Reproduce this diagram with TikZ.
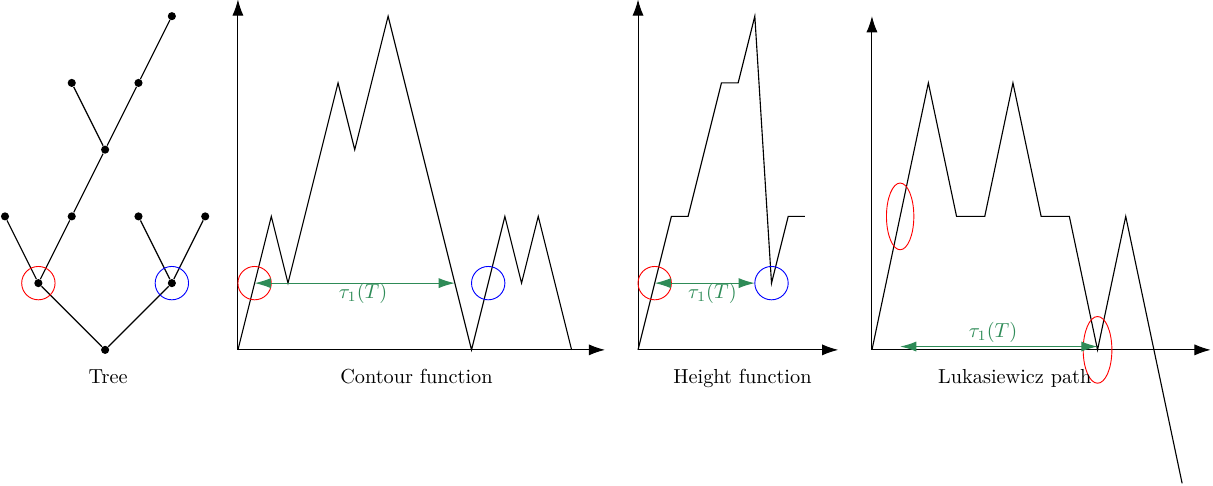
\documentclass[tikz,border=0pt]{standalone}
\usetikzlibrary{arrows.meta}
\definecolor{tgreen}{RGB}{46,139,87}
\begin{document}
\begin{tikzpicture}[x=0.5778cm,y=0.5778cm,
  dot/.style={circle,fill=black,inner sep=0pt,minimum size=4pt},
  edge/.style={line width=0.6pt},
  axis/.style={line width=0.5pt,-{Latex[length=8pt,width=5.5pt]}},
  curve/.style={line width=0.55pt},
  dbl/.style={tgreen,line width=0.55pt,{Latex[length=8pt,width=5pt]}-{Latex[length=8pt,width=5pt]}},
  redring/.style={red,line width=0.45pt},
  bluering/.style={blue,line width=0.45pt},
  lab/.style={anchor=base},
  tlab/.style={anchor=base,text=tgreen}]
\useasboundingbox (0,0) rectangle (36.35,14.56);

% ---------- Tree ----------
\begin{scope}[shift={(0.15,4.075)}]
  \node[dot] (r) at (3,0) {};
  \node[dot] (a) at (1,2) {};
  \node[dot] (b) at (5,2) {};
  \node[dot] (a1) at (0,4) {};
  \node[dot] (a2) at (2,4) {};
  \node[dot] (b1) at (4,4) {};
  \node[dot] (b2) at (6,4) {};
  \node[dot] (c) at (3,6) {};
  \node[dot] (c1) at (2,8) {};
  \node[dot] (c2) at (4,8) {};
  \node[dot] (d) at (5,10) {};
  \draw[edge] (r) -- (a);
  \draw[edge] (r) -- (b);
  \draw[edge] (a) -- (a1);
  \draw[edge] (a) -- (a2);
  \draw[edge] (a2) -- (c);
  \draw[edge] (c) -- (c1);
  \draw[edge] (c) -- (c2);
  \draw[edge] (c2) -- (d);
  \draw[edge] (b) -- (b1);
  \draw[edge] (b) -- (b2);
  \draw[redring] (a) circle (0.5);
  \draw[bluering] (b) circle (0.5);
  \node[lab] (treelab) at (3.09,-1) {Tree};
\end{scope}

% ---------- Contour function ----------
\begin{scope}[shift={(7.13,4.075)}]
  \coordinate (co) at (0,0);
  \coordinate (cy) at (0,10.5);
  \coordinate (cx) at (11,0);
  \draw[axis] (co) -- (cy);
  \draw[axis] (co) -- (cx);
  \draw[curve] (0,0)--(1,4)--(1.5,2)--(3,8)--(3.5,6)--(4.5,10)--(7,0)--(8,4)--(8.5,2)--(9,4)--(10,0);
  \coordinate (cr) at (0.5,2);
  \coordinate (cb) at (7.5,2);
  \coordinate (ce) at (6.5,2);
  \draw[redring] (cr) circle (0.5);
  \draw[bluering] (cb) circle (0.5);
  \draw[dbl] (cr) -- (ce);
  \node[tlab] (ctau) at (3.75,1.55) {$\tau_1(T)$};
  \node[lab] (clab) at (5.35,-1) {Contour function};
\end{scope}

% ---------- Height function ----------
\begin{scope}[shift={(19.12,4.075)}]
  \coordinate (ho) at (0,0);
  \coordinate (hy) at (0,10.5);
  \coordinate (hx) at (6,0);
  \draw[axis] (ho) -- (hy);
  \draw[axis] (ho) -- (hx);
  \draw[curve] (0,0)--(1,4)--(1.5,4)--(2.5,8)--(3,8)--(3.5,10)--(4,2)--(4.5,4)--(5,4);
  \coordinate (hr) at (0.5,2);
  \coordinate (hb) at (4,2);
  \coordinate (he) at (3.5,2);
  \draw[redring] (hr) circle (0.5);
  \draw[bluering] (hb) circle (0.5);
  \draw[dbl] (hr) -- (he);
  \node[tlab] (htau) at (2.23,1.55) {$\tau_1(T)$};
  \node[lab] (hlab) at (3.13,-1) {Height function};
\end{scope}

% ---------- Lukasiewicz path ----------
\begin{scope}[shift={(26.13,4.075)}]
  \coordinate (lo) at (0,0);
  \coordinate (ly) at (0,10);
  \coordinate (lx) at (10.15,0);
  \draw[axis] (lo) -- (ly);
  \draw[axis] (lo) -- (lx);
  \draw[curve] (0,0)--(0.845,4)--(1.69,8)--(2.535,4)--(3.38,4)--(4.225,8)--(5.07,4)--(5.915,4)--(6.76,0)--(7.605,4)--(8.45,0)--(9.295,-4);
  \coordinate (lr1) at (0.845,4);
  \coordinate (lr2) at (6.76,0);
  \coordinate (la) at (0.845,0.1);
  \coordinate (lb) at (6.76,0.1);
  \draw[redring] (lr1) ellipse [x radius=0.41, y radius=1];
  \draw[redring] (lr2) ellipse [x radius=0.43, y radius=1];
  \draw[dbl] (la) -- (lb);
  \node[tlab] (ltau) at (3.63,0.36) {$\tau_1(T)$};
  \node[lab] (llab) at (4.28,-1) {Lukasiewicz path};
\end{scope}
\end{tikzpicture}
\end{document}
